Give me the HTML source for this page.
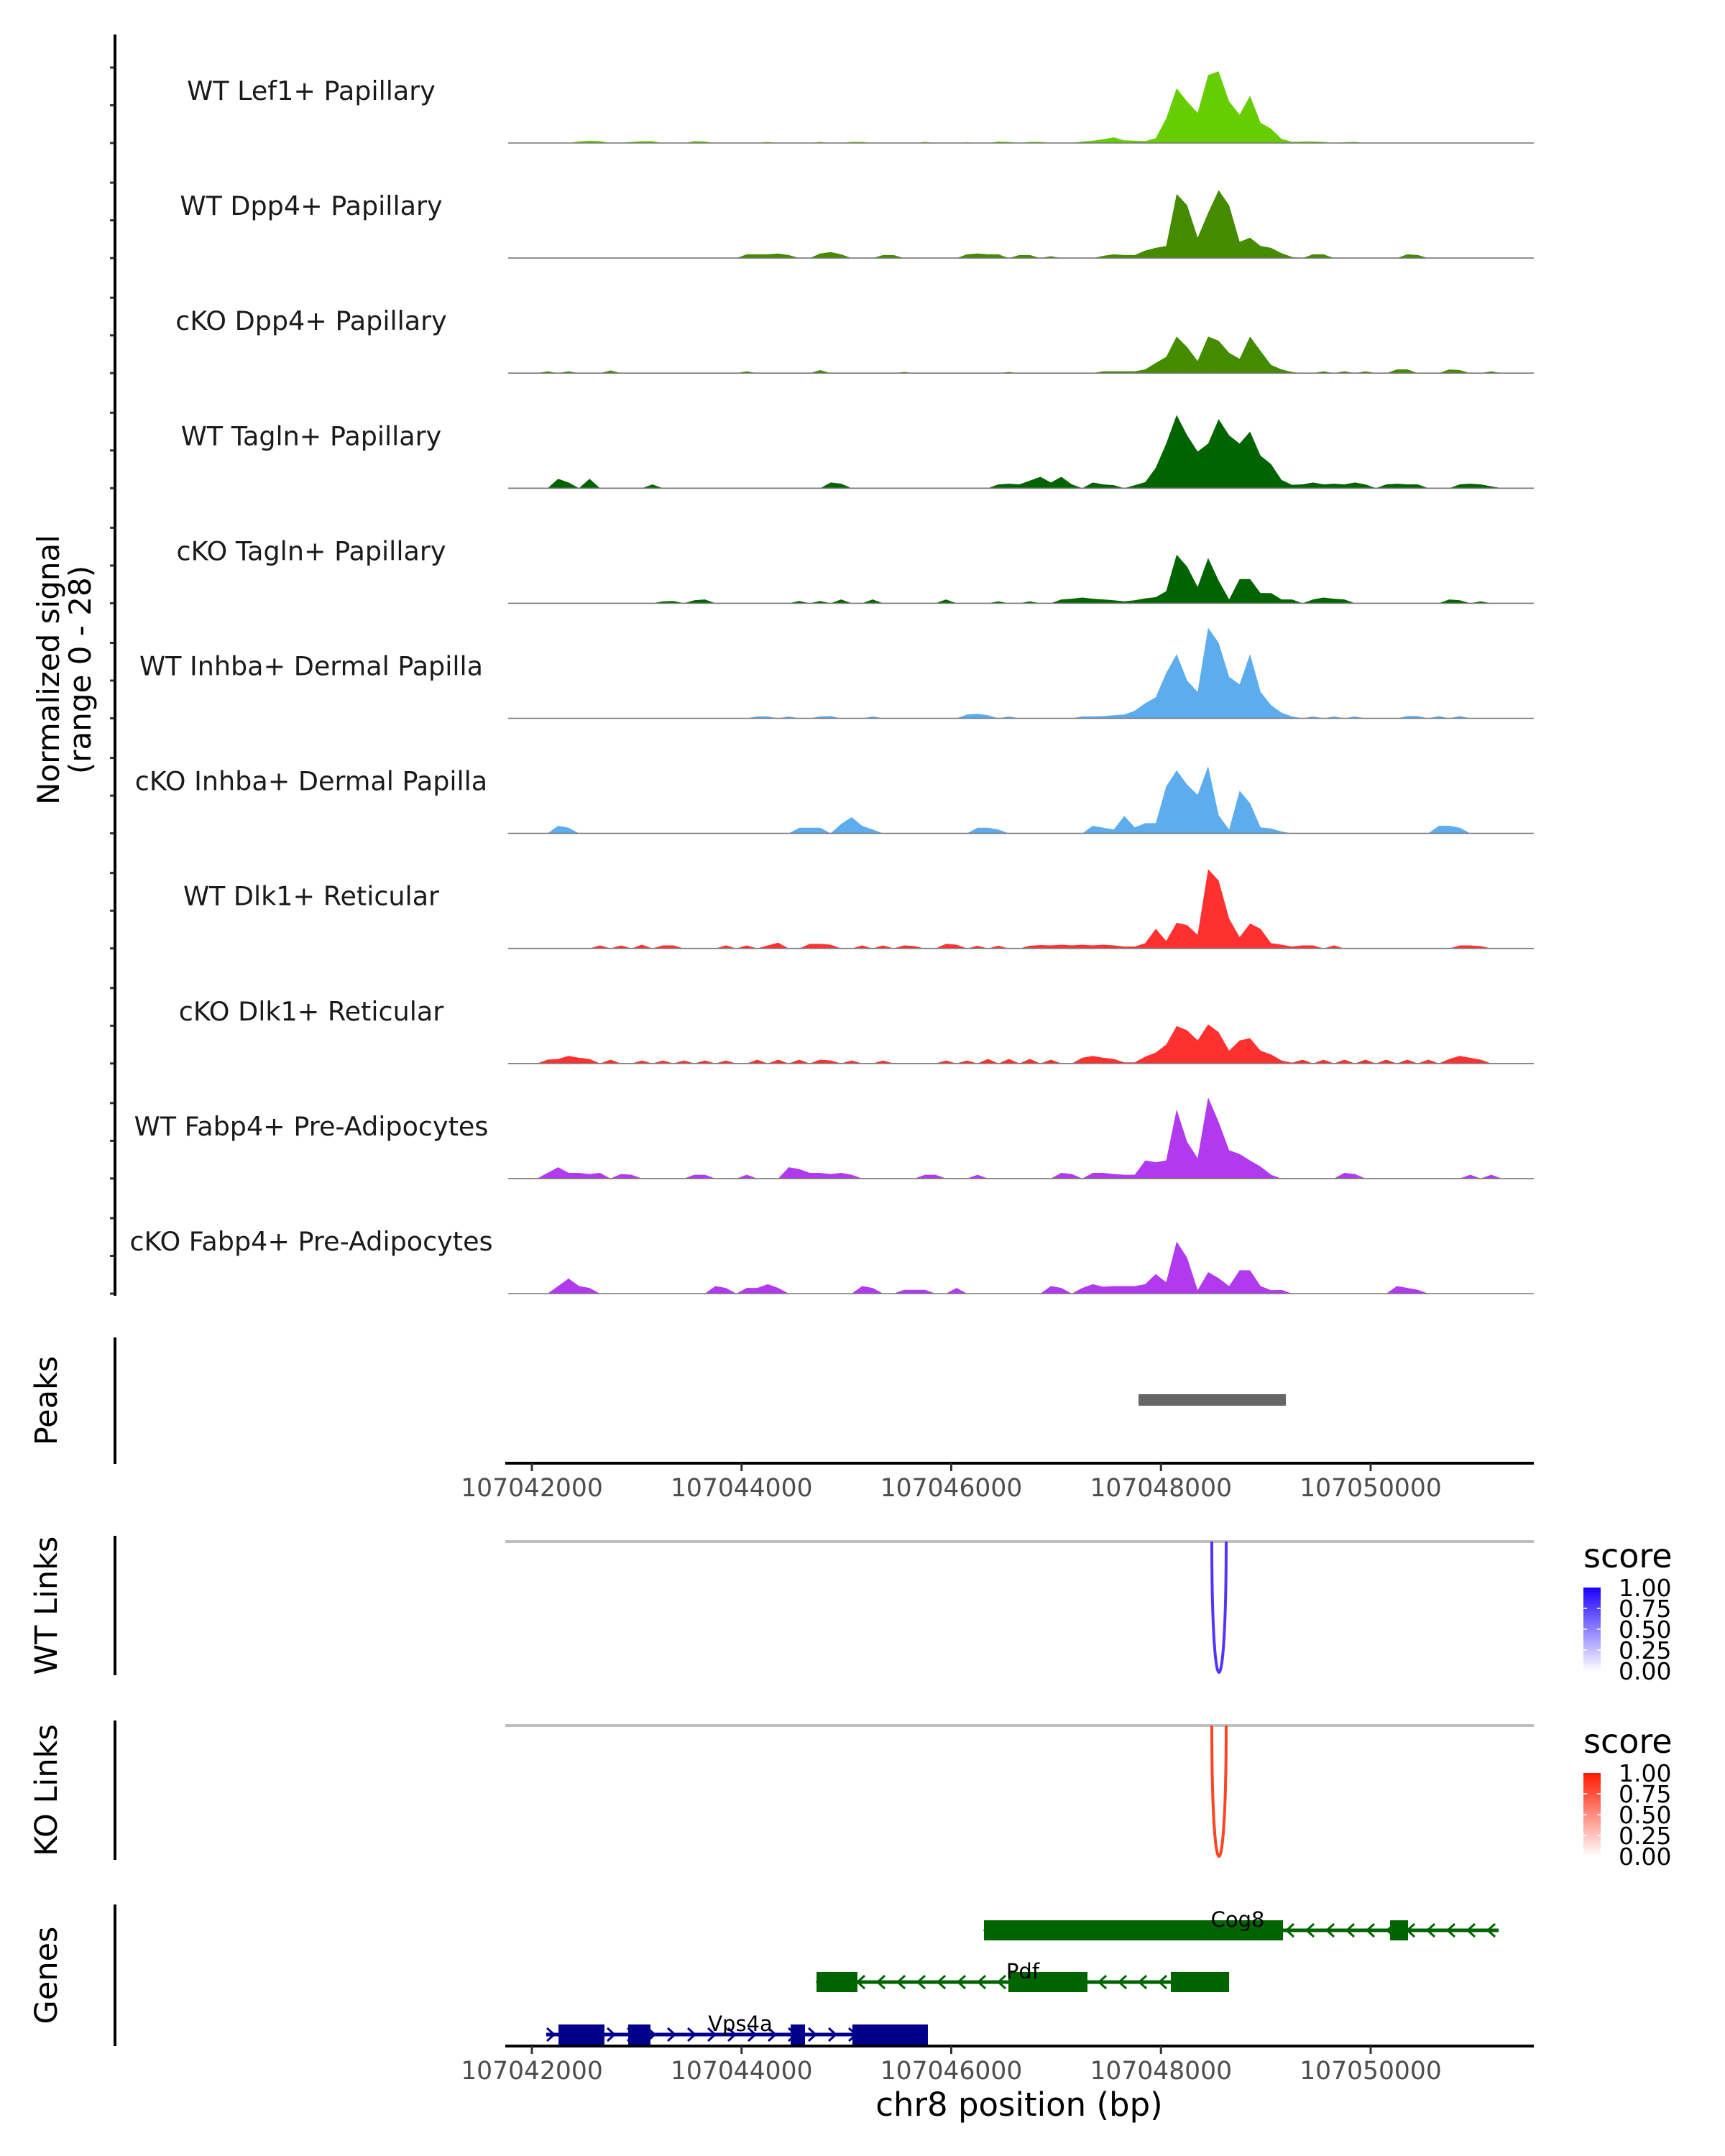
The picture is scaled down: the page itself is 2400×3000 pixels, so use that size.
<!DOCTYPE html>
<html><head><meta charset="utf-8"><style>
html,body{margin:0;padding:0;background:#fff;}
svg{display:block;font-family:"DejaVu Sans","Liberation Sans",sans-serif;}
</style></head><body>
<svg id="chart" xmlns="http://www.w3.org/2000/svg" width="2400" height="3000" viewBox="0 0 2400 3000">
<rect width="2400" height="3000" fill="#fff"/>
<g id="tracks"></g>
<g id="yaxis"></g>
<text transform="translate(82,932) rotate(-90)" text-anchor="middle" font-size="42" fill="#000">Normalized signal</text>
<text transform="translate(126,932) rotate(-90)" text-anchor="middle" font-size="42" fill="#000">(range 0 - 28)</text>
<g id="peaks"></g>
<g id="links"></g>
<g id="genes"></g>
<g id="xaxes"></g>
<text x="1418" y="2944" text-anchor="middle" font-size="45" fill="#000">chr8 position (bp)</text>
</svg>
<script>
// ---- data ----
const trackNames = ["WT Lef1+ Papillary","WT Dpp4+ Papillary","cKO Dpp4+ Papillary","WT Tagln+ Papillary","cKO Tagln+ Papillary","WT Inhba+ Dermal Papilla","cKO Inhba+ Dermal Papilla","WT Dlk1+ Reticular","cKO Dlk1+ Reticular","WT Fabp4+ Pre-Adipocytes","cKO Fabp4+ Pre-Adipocytes"];
const trackColors = ["#66CD00","#458B00","#458B00","#006400","#006400","#5CACEE","#5CACEE","#FF3030","#FF3030","#B23AEE","#B23AEE"];
const binStart = 107042000;
const binSize = 100;
const nBins = 93;
const peakStartBin = 56;
const peakLef1 = [0.7,0.6,0.5,1.3,6.5,14.5,11,8,18,19,11,7.5,12.5,5.4,3.8,1.1,0.3];
const peakDpp4 = [0.8,0.8,2,2.7,3.2,17,14,5.4,12,18,14,4.3,5.4,3.2,2.7,1.3,0.3];
const peakCkoDpp4 = [0.5,0.5,1,2.7,4.3,9.7,6.9,3.2,9.7,8.6,5.4,3.8,9.7,5.9,2.2,1,0.3];
const peakTagln = [0,0.8,1.6,5.4,11.8,19.4,14,9.7,11.8,18.3,14,11.8,15,8.6,6.4,2.2,0.9];
const peakCkoTagln = [0.5,0.8,1.3,1.6,3.2,12.9,9.7,4.3,12,6,1,6.4,6.4,2.7,2.7,1,1];
const peakInhba = [1,2,4,5.6,12,17,10,7,24,20,11,9,17,7,3.5,1.5,0.5];
const peakCkoInhba = [4.6,1.6,2.7,2.7,12.4,16.7,12.9,10.2,17.8,4.8,1,11.3,8,1.6,1.3,0.5,0];
const peakDlk1 = [0.5,0.5,1.4,5.2,2,6.8,6.2,3.6,21,18,7.9,3,6.6,5.2,1.4,1,0.5];
const peakCkoDlk1 = [0.3,0.3,1.8,2.9,5,9.9,8.8,6.1,10.4,8.3,3.4,6.1,6.7,3.4,2.4,0.8,0.2];
const peakFabp4 = [1,1,4.8,4.3,4.8,18.3,9.7,5.4,21.5,15,7.5,6.5,4.8,3.2,1,0,0];
const peakCkoFabp4 = [2,2,2.5,5.2,3,13.8,9.5,0.9,5.7,4.1,2,6.2,6.2,2,0.9,1,0];
const bgLef1 = [[4,0.4],[5,0.6],[6,0.5],[9,0.3],[10,0.5],[11,0.5],[15,0.5],[16,0.4],[22,0.3],[27,0.3],[30,0.3],[31,0.3],[37,0.3],[41,0.2],[44,0.4],[45,0.3],[47,0.3],[48,0.3],[52,0.4],[53,0.6],[54,1],[55,1.5],[73,0.4],[74,0.4],[75,0.3],[77,0.2],[78,0.3]];
const bgDpp4 = [[20,1],[21,1],[22,1],[23,1.2],[24,0.8],[27,1.2],[28,1.6],[29,1],[33,0.8],[34,0.8],[41,1],[42,1.2],[43,1],[44,1],[46,0.8],[47,0.8],[49,0.5],[54,0.6],[55,1],[74,1],[75,1],[83,1],[84,0.8]];
const bgCkoDpp4 = [[1,0.5],[3,0.5],[7,0.7],[20,0.5],[27,0.8],[35,0.3],[45,0.3],[54,0.5],[55,0.5],[75,0.5],[77,0.5],[79,0.5],[82,1],[83,1],[87,1],[88,0.8],[91,0.5]];
const bgTagln = [[2,2.5],[3,1.5],[5,2.5],[11,1],[28,1.5],[29,1.2],[44,1],[45,1.2],[46,1],[47,2],[48,3],[49,1.5],[50,3],[51,1],[53,1.5],[54,1],[55,0.8],[73,1],[74,1.5],[75,1],[76,1.2],[77,1],[78,1.5],[79,1],[81,1],[82,1.2],[83,1],[84,1],[88,1],[89,1.2],[90,1],[91,0.5]];
const bgCkoTagln = [[12,0.5],[13,0.6],[15,0.8],[16,1],[25,0.6],[27,0.6],[29,1],[32,1],[39,1],[44,0.5],[47,0.5],[50,1],[51,1.2],[52,1.5],[53,1.2],[54,1],[55,0.8],[74,1],[75,1.5],[76,1.2],[77,1],[87,1],[88,0.8],[90,0.5]];
const bgInhba = [[21,0.5],[22,0.5],[24,0.5],[27,0.5],[28,0.6],[32,0.5],[41,1],[42,1.2],[43,0.8],[45,0.5],[52,0.5],[53,0.5],[54,0.6],[55,0.8],[74,0.5],[76,0.5],[78,0.5],[83,0.6],[84,0.6],[86,0.6],[88,0.6]];
const bgCkoInhba = [[2,2],[3,1.5],[25,1.5],[26,1.5],[27,1.5],[29,2.5],[30,4.3],[31,2],[32,1],[42,1.5],[43,1.5],[44,1],[53,2],[54,1.5],[55,1],[86,2],[87,2],[88,1.5]];
const bgDlk1 = [[6,0.8],[8,0.8],[10,1],[12,0.8],[13,0.8],[18,0.8],[20,0.8],[22,0.8],[23,1.5],[26,1.2],[27,1.2],[28,1],[31,0.8],[33,0.8],[35,0.8],[36,0.6],[39,1.2],[40,1],[42,0.7],[44,0.7],[47,0.7],[48,0.9],[49,0.8],[50,1],[51,0.8],[52,1],[53,0.8],[54,1],[55,0.8],[73,0.8],[74,0.8],[76,0.8],[88,0.8],[89,0.8],[90,0.6]];
const bgCkoDlk1 = [[1,1],[2,1.2],[3,2],[4,1.5],[5,1.2],[7,1],[10,0.8],[12,0.8],[14,0.8],[16,0.8],[18,0.8],[21,1],[23,1],[25,1],[27,1],[28,0.8],[30,0.8],[33,0.8],[39,0.8],[41,0.8],[43,1.2],[45,1.2],[47,1.2],[49,1],[52,1.5],[53,2],[54,1.5],[55,1.2],[73,1],[75,1],[77,1],[79,1],[81,1],[83,1],[85,1],[87,1.2],[88,2],[89,1.5],[90,1]];
const bgFabp4 = [[1,1.5],[2,3],[3,1.5],[4,1.5],[5,1.2],[6,1.5],[8,1.2],[9,1],[15,1],[16,1],[20,1],[24,3],[25,2.5],[26,1.5],[27,1.5],[28,1.2],[29,1.5],[30,1],[37,1],[38,1],[42,1],[50,1.5],[51,1.2],[53,1.5],[54,1.5],[55,1.2],[77,1.5],[78,1.2],[89,1],[91,1]];
const bgCkoFabp4 = [[2,2],[3,4],[4,2],[5,1.5],[17,2],[18,1.5],[20,1.5],[21,1.5],[22,2.5],[23,1.5],[31,2],[32,1.5],[35,1],[36,1],[37,1],[40,1.5],[49,2],[50,1.5],[52,1.5],[53,2.5],[54,1.8],[55,2],[71,1],[82,2],[83,1.5],[84,1]];
const peakSets = [peakLef1,peakDpp4,peakCkoDpp4,peakTagln,peakCkoTagln,peakInhba,peakCkoInhba,peakDlk1,peakCkoDlk1,peakFabp4,peakCkoFabp4];
const bgSets = [bgLef1,bgDpp4,bgCkoDpp4,bgTagln,bgCkoTagln,bgInhba,bgCkoInhba,bgDlk1,bgCkoDlk1,bgFabp4,bgCkoFabp4];
const yTickValues = [0,10,20];
const xTickValues = [107042000,107044000,107046000,107048000,107050000];
const peakRegions = [[107047786,107049191]];
const linkWT = [[107048485,107048622,1.0]];
const linkKO = [[107048485,107048622,1.0]];
const legendTicks = ["1.00","0.75","0.50","0.25","0.00"];
const geneCog8 = {name:"Cog8",start:107046312,end:107051220,strand:-1,exons:[[107046312,107049164],[107050185,107050357]],label:107048732};
const genePdf = {name:"Pdf",start:107044715,end:107048650,strand:-1,exons:[[107044715,107045105],[107046545,107047299],[107048094,107048650]],label:107046682};
const geneVps4a = {name:"Vps4a",start:107042137,end:107045777,strand:1,exons:[[107042254,107042692],[107042919,107043131],[107044468,107044605],[107045057,107045777]],label:107043988};
const genesList = [geneCog8,genePdf,geneVps4a];

// ---- layout ----
const NS = "http://www.w3.org/2000/svg";
const X0 = 703, X1 = 2134;
const xs = bp => 740 + (bp - 107042000) * (1167 / 8000);
const base0 = 199, trackStep = 160.1, pxPerUnit = 5.25;
function mk(tag, attrs, parent){ const e=document.createElementNS(NS,tag); for(const k in attrs) e.setAttribute(k,attrs[k]); parent.appendChild(e); return e; }

const gT = document.getElementById('tracks');
const gY = document.getElementById('yaxis');
trackNames.forEach((name,t)=>{
  const base = base0 + t*trackStep;
  const vals = new Array(nBins).fill(0);
  bgSets[t].forEach(([b,v])=>{ vals[b]=v; });
  peakSets[t].forEach((v,i)=>{ vals[peakStartBin+i]=v; });
  const y = v => base - v*pxPerUnit;
  let d = `M${xs(binStart).toFixed(1)},${base}`;
  vals.forEach((v,i)=>{
    const c = xs(binStart+(i+0.5)*binSize);
    d += ` L${c.toFixed(1)},${y(v).toFixed(1)}`;
  });
  d += ` L${xs(binStart+nBins*binSize).toFixed(1)},${base} Z`;
  const area = mk('path',{d:d,fill:trackColors[t],stroke:'none'},gT);
  
  
  const bl = mk('line',{x1:X0+4,x2:X1,y1:base,y2:base,stroke:'#777',"stroke-width":1.6},gT);
  
  
  const lab = mk('text',{x:433,y:base-60,"text-anchor":"middle","font-size":36.5,fill:'#1a1a1a'},gT);
  lab.textContent = name;
  
  
  yTickValues.forEach(v=>{
    const tk = mk('line',{x1:153,x2:160,y1:y(v),y2:y(v),stroke:'#333',"stroke-width":3},gY);
    
    
  });
});
const yl = mk('line',{x1:160,x2:160,y1:48,y2:1803,stroke:'#000',"stroke-width":4},gY);



const side = [["Peaks",1861,2037],["WT Links",2137,2331],["KO Links",2394,2588],["Genes",2650,2847]];
side.forEach(([txt,a,b])=>{
  const l = mk('line',{x1:160,x2:160,y1:a,y2:b,stroke:'#000',"stroke-width":4},gY);
  
  
  const tx = mk('text',{transform:`translate(79,${(a+b)/2}) rotate(-90)`,"text-anchor":"middle","font-size":43,fill:'#000'},gY);
  tx.textContent = txt;
  
  
});

const gP = document.getElementById('peaks');
peakRegions.forEach(([s,e])=>{
  const r = mk('rect',{x:xs(s),y:1940,width:xs(e)-xs(s),height:16,fill:'#666'},gP);
  
  
});

const gX = document.getElementById('xaxes');
[2036,2847].forEach(ay=>{
  const l = mk('line',{x1:X0,x2:X1,y1:ay,y2:ay,stroke:'#000',"stroke-width":4},gX);
  
  
  xTickValues.forEach(v=>{
    const tk = mk('line',{x1:xs(v),x2:xs(v),y1:ay,y2:ay+11,stroke:'#333',"stroke-width":3},gX);
    
    
    const tl = mk('text',{x:xs(v),y:ay+46,"text-anchor":"middle","font-size":34.5,fill:'#4d4d4d'},gX);
    tl.textContent = String(v);
    
    
  });
});

const gL = document.getElementById('links');
const defs = mk('defs',{},gL);
function grad(id,col){
  const g = mk('linearGradient',{id:id,x1:0,y1:1,x2:0,y2:0},defs);
  mk('stop',{offset:0,"stop-color":'#ffffff'},g);
  mk('stop',{offset:1,"stop-color":col},g);
}
grad('gWT','#1a00ff'); grad('gKO','#ff1a00');
function linkPanel(links,top,bottom,col,gid,legTop){
  const gl = mk('line',{x1:X0,x2:X1,y1:top,y2:top,stroke:'#bfbfbf',"stroke-width":4},gL);
  
  
  links.forEach(([s,e,sc])=>{
    const a=xs(s), b=xs(e), depth = (bottom-top)*sc;
    const c = top + depth*4/3;
    const p = mk('path',{d:`M${a},${top} C${a},${c} ${b},${c} ${b},${top}`,fill:'none',stroke:col,"stroke-width":4},gL);
    
    
  });
  const st = mk('text',{x:2203,y:legTop,"font-size":46,fill:'#000'},gL);
  st.textContent = 'score';
  
  
  const by = legTop+28;
  const bar = mk('rect',{x:2203,y:by,width:24,height:116,fill:`url(#${gid})`},gL);
  
  
  legendTicks.forEach((t,i)=>{
    const yy = by + i*29;
    if(i>0 && i<4){
      mk('line',{x1:2203,x2:2208,y1:yy,y2:yy,stroke:'#fff',"stroke-width":1.5},gL);
      mk('line',{x1:2222,x2:2227,y1:yy,y2:yy,stroke:'#fff',"stroke-width":1.5},gL);
    }
    const tl = mk('text',{x:2252,y:yy+12,"font-size":33,fill:'#000'},gL);
    tl.textContent = t;
    
    
  });
}
linkPanel(linkWT,2145,2327,'#5533ff','gWT',2181);
linkPanel(linkKO,2401,2583,'#ff4422','gKO',2439);

const gG = document.getElementById('genes');
const geneRowY = [2686,2758,2831];
const geneColors = ['#006400','#006400','#00008B'];
genesList.forEach((g,i)=>{
  const cy = geneRowY[i], col = geneColors[i];
  const a = xs(g.start), b = xs(g.end);
  const ln = mk('line',{x1:a,x2:b,y1:cy,y2:cy,stroke:col,"stroke-width":5},gG);
  
  
  for(let x=a+6; x<=b; x+=28){
    const dx = g.strand>0 ? 5 : -5;
    const cv = mk('path',{d:`M${x-dx},${cy-9} L${x+dx},${cy} L${x-dx},${cy+9}`,fill:'none',stroke:col,"stroke-width":3},gG);
    
    
  }
  g.exons.forEach(([s,e])=>{
    const r = mk('rect',{x:xs(s),y:cy-14,width:xs(e)-xs(s),height:28,fill:col},gG);
    
    
  });
  const tl = mk('text',{x:xs(g.label),y:cy-5,"text-anchor":"middle","font-size":29,fill:'#000'},gG);
  tl.textContent = g.name;
  
  
});
</script>
</body></html>
